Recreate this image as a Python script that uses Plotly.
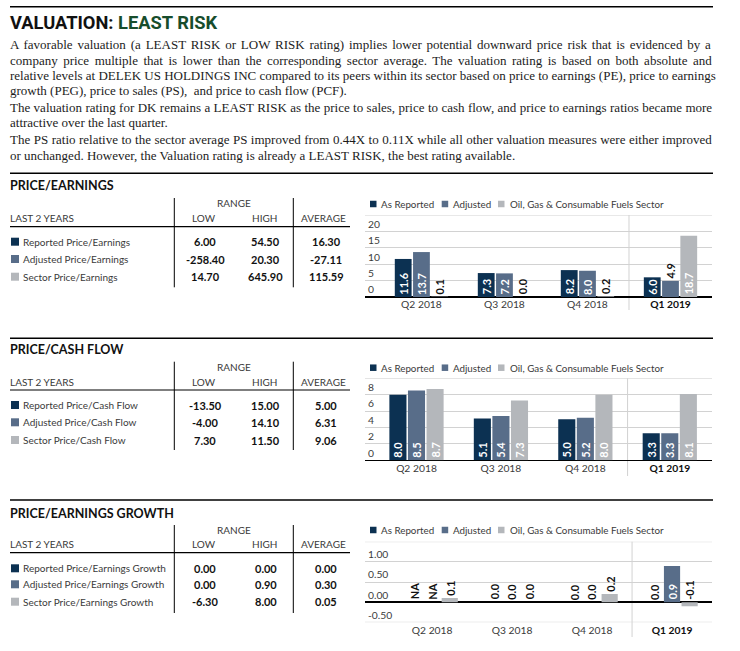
import plotly.graph_objects as go

W, H = 740, 651

# ---------------- data ----------------
categories = ["Q2 2018", "Q3 2018", "Q4 2018", "Q1 2019"]
series_names = ["As Reported", "Adjusted", "Oil, Gas & Consumable Fuels Sector"]
series_colors = ["#0c3152", "#586d89", "#b4b7bb"]

pe_reported = [11.6, 7.3, 8.2, 6.0]
pe_adjusted = [13.7, 7.2, 8.0, 4.9]
pe_sector = [0.1, 0.0, 0.2, 18.7]

pcf_reported = [8.0, 5.1, 5.0, 3.3]
pcf_adjusted = [8.5, 5.4, 5.2, 3.3]
pcf_sector = [8.7, 7.3, 8.0, 8.1]

peg_reported = [None, 0.0, 0.0, 0.0]
peg_adjusted = [None, 0.0, 0.0, 0.9]
peg_sector = [0.1, 0.0, 0.2, -0.1]

pe_rows = ["Reported Price/Earnings", "Adjusted Price/Earnings", "Sector Price/Earnings"]
pe_low = [6.00, -258.40, 14.70]
pe_high = [54.50, 20.30, 645.90]
pe_avg = [16.30, -27.11, 115.59]

pcf_rows = ["Reported Price/Cash Flow", "Adjusted Price/Cash Flow", "Sector Price/Cash Flow"]
pcf_low = [-13.50, -4.00, 7.30]
pcf_high = [15.00, 14.10, 11.50]
pcf_avg = [5.00, 6.31, 9.06]

peg_rows = ["Reported Price/Earnings Growth", "Adjusted Price/Earnings Growth", "Sector Price/Earnings Growth"]
peg_low = [0.00, 0.00, -6.30]
peg_high = [0.00, 0.90, 8.00]
peg_avg = [0.00, 0.30, 0.05]

pe_ticks = [0, 5, 10, 15, 20, 25]
pe_ticklabels = ["0", "5", "10", "15", "20", ""]
pcf_ticks = [0, 2, 4, 6, 8, 10]
pcf_ticklabels = ["0", "2", "4", "6", "8", ""]
peg_ticks = [-0.5, 0.0, 0.5, 1.0, 1.5]
peg_ticklabels = ["-0.50", "0.00", "0.50", "1.00", ""]

title_black = "VALUATION: "
title_green = "LEAST RISK"
# (text, y position, extra word spacing used to imitate the justified paragraph)
body_lines = [
    ("A favorable valuation (a LEAST RISK or LOW RISK rating) implies lower potential downward price risk that is evidenced by a", 44, 1.6),
    ("company price multiple that is lower than the corresponding sector average. The valuation rating is based on both absolute and", 60, 2.25),
    ("relative levels at DELEK US HOLDINGS INC compared to its peers within its sector based on price to earnings (PE), price to earnings", 75.5, 0.0),
    ("growth (PEG), price to sales (PS),  and price to cash flow (PCF).", 91, 0.0),
    ("The valuation rating for DK remains a LEAST RISK as the price to sales, price to cash flow, and price to earnings ratios became more", 107, 0.15),
    ("attractive over the last quarter.", 122.5, 0.0),
    ("The PS ratio relative to the sector average PS improved from 0.44X to 0.11X while all other valuation measures were either improved", 139, 0.25),
    ("or unchanged. However, the Valuation rating is already a LEAST RISK, the best rating available.", 155, 0.0),
]

sections = [
    dict(title="PRICE/EARNINGS", series=[pe_reported, pe_adjusted, pe_sector],
         rows=pe_rows, low=pe_low, high=pe_high, avg=pe_avg,
         ticks=pe_ticks, ticklabels=pe_ticklabels, yrange=[0, 25], xrange=[-0.68, 3.5],
         rule_y=173.3, title_y=185.5, range_y=203.3, head_y=218.3, line_y=226.7,
         rows_y=[241.7, 259.0, 276.7], vline=(198, 287.3), legend_y=204,
         plot=(215.0, 297.0), sep_bottom=310),
    dict(title="PRICE/CASH FLOW", series=[pcf_reported, pcf_adjusted, pcf_sector],
         rows=pcf_rows, low=pcf_low, high=pcf_high, avg=pcf_avg,
         ticks=pcf_ticks, ticklabels=pcf_ticklabels, yrange=[0, 10], xrange=[-0.61, 3.5],
         rule_y=338.3, title_y=349.0, range_y=367.3, head_y=381.7, line_y=390.0,
         rows_y=[405.0, 422.3, 440.0], vline=(361.7, 450.0), legend_y=367.7,
         plot=(378.3, 460.3), sep_bottom=476),
    dict(title="PRICE/EARNINGS GROWTH", series=[peg_reported, peg_adjusted, peg_sector],
         rows=peg_rows, low=peg_low, high=peg_high, avg=peg_avg,
         ticks=peg_ticks, ticklabels=peg_ticklabels, yrange=[-0.5, 1.5], xrange=[-0.84, 3.5],
         rule_y=500.0, title_y=513.3, range_y=530.0, head_y=544.3, line_y=552.7,
         rows_y=[568.3, 584.3, 601.7], vline=(525.0, 613.0), legend_y=530.0,
         plot=(541.7, 622.3), sep_bottom=637),
]

# ---------------- helpers ----------------
SANS = "Lato"
SERIF = "Liberation Serif"
GRID = "#d2d2d2"
TXT = "#3a3a3a"
PLOT_L, PLOT_R = 365.0, 712.0
BARGAP, GROUPGAP = 0.34, 0.08
SLOT = (1 - BARGAP) / 3

annotations = []
shapes = []


def px(x):
    return x / W


def py(y):
    return 1 - y / H


def text(x, y, s, size=10, color=TXT, family=SANS, xanchor="left", yanchor="middle"):
    annotations.append(dict(x=px(x), y=py(y), xref="paper", yref="paper", text=s,
                            showarrow=False, xanchor=xanchor, yanchor=yanchor, borderpad=0,
                            font=dict(family=family, size=size, color=color)))


def hline(x0, x1, y, color="black", width=1.0):
    shapes.append(dict(type="line", xref="paper", yref="paper", x0=px(x0), x1=px(x1),
                       y0=py(y), y1=py(y), line=dict(color=color, width=width)))


def vline(x, y0, y1, color="black", width=1.0):
    shapes.append(dict(type="line", xref="paper", yref="paper", x0=px(x), x1=px(x),
                       y0=py(y0), y1=py(y1), line=dict(color=color, width=width)))


def square(x, y, size, color):
    shapes.append(dict(type="rect", xref="paper", yref="paper", x0=px(x), x1=px(x + size),
                       y0=py(y + size / 2), y1=py(y - size / 2), line=dict(width=0), fillcolor=color))


fig = go.Figure()

# ---------------- header ----------------
hline(10, 713, 6.7, width=1.6)
annotations.append(dict(x=px(9), y=py(22.5), xref="paper", yref="paper", showarrow=False,
                        xanchor="left", yanchor="middle", borderpad=0,
                        text=f"<b>{title_black}<span style='color:#174d2c'>{title_green}</span></b>",
                        font=dict(family="Roboto", size=18.3, color="#111111")))
for line, y, ws in body_lines:
    s = f"<span style='word-spacing:{ws}px'>{line}</span>" if ws else line
    text(9, y, s, size=13, color="#1c1c1c", family=SERIF)

# ---------------- sections ----------------
for k, sec in enumerate(sections):
    sfx = "" if k == 0 else str(k + 1)
    xname, yname = "x" + sfx, "y" + sfx

    # section rule and title
    hline(10, 713, sec["rule_y"], width=1.6)
    text(9, sec["title_y"], f"<b>{sec['title']}</b>", size=12.5, color="#111111")

    # table
    text(234.3, sec["range_y"], "RANGE", xanchor="center")
    text(9, sec["head_y"], "LAST 2 YEARS")
    text(204, sec["head_y"], "LOW", xanchor="center")
    text(264, sec["head_y"], "HIGH", xanchor="center")
    text(323.5, sec["head_y"], "AVERAGE", xanchor="center")
    hline(10, 350, sec["line_y"], width=1.2)
    vline(174.3, sec["vline"][0], sec["vline"][1])
    vline(293.3, sec["vline"][0], sec["vline"][1])
    for r, label in enumerate(sec["rows"]):
        ry = sec["rows_y"][r]
        square(11, ry, 8, series_colors[r])
        text(22, ry, label)
        text(205, ry, f"<b>{sec['low'][r]:.2f}</b>", size=11, color="#111111", xanchor="center")
        text(265.5, ry, f"<b>{sec['high'][r]:.2f}</b>", size=11, color="#111111", xanchor="center")
        text(326, ry, f"<b>{sec['avg'][r]:.2f}</b>", size=11, color="#111111", xanchor="center")

    # legend
    lx = [370, 441.7, 498]
    tx = [380, 451.7, 509.3]
    for j, name in enumerate(series_names):
        square(lx[j], sec["legend_y"], 6.5, series_colors[j])
        text(tx[j], sec["legend_y"], name, size=9.8)

    # bars
    for j, vals in enumerate(sec["series"]):
        fig.add_trace(go.Bar(x=categories, y=vals, name=series_names[j],
                             marker=dict(color=series_colors[j], line=dict(width=0)),
                             xaxis=xname, yaxis=yname, showlegend=False, hoverinfo="skip"))

    top, bottom = sec["plot"]
    plot_h = bottom - top
    span = sec["yrange"][1] - sec["yrange"][0]

    # value labels on the bars
    for j, vals in enumerate(sec["series"]):
        for i, v in enumerate(vals):
            label = "NA" if v is None else f"{v:.1f}"
            bar_px = 0 if v is None else abs(v) * plot_h / span
            inside = v is not None and v > 0 and bar_px >= 18
            ybase = 0 if (inside or v is None) else max(v, 0)
            annotations.append(dict(x=i + (j - 1) * SLOT, y=ybase, xref=xname, yref=yname,
                                    text=f"<b>{label}</b>", showarrow=False, textangle=-90,
                                    xanchor="center", yanchor="bottom", yshift=1.5, borderpad=0,
                                    font=dict(family=SANS, size=11,
                                              color="white" if inside else "#111111")))

    # axes
    ticktext = [c if c != categories[-1] else f"<b style='color:#111'>{c}</b>" for c in categories]
    fig.update_layout({
        "xaxis" + sfx: dict(domain=[px(PLOT_L), px(PLOT_R)], range=sec["xrange"], type="category",
                            categoryorder="array", categoryarray=categories,
                            tickmode="array", tickvals=categories, ticktext=ticktext,
                            showgrid=False, zeroline=False, showline=False, ticks="",
                            tickfont=dict(family=SANS, size=10.3, color=TXT),
                            anchor=yname, fixedrange=True),
        "yaxis" + sfx: dict(domain=[py(bottom), py(top)], range=sec["yrange"],
                            tickmode="array", tickvals=sec["ticks"], ticktext=sec["ticklabels"],
                            ticklabelposition="inside top", ticks="",
                            showgrid=True, gridcolor=GRID, gridwidth=1,
                            zeroline=True, zerolinecolor="black", zerolinewidth=1.5,
                            showline=False, tickfont=dict(family=SANS, size=10.3, color=TXT),
                            anchor=xname, fixedrange=True),
    })

    # plot top / bottom border lines and quarter separator
    for yv in sec["yrange"]:
        if yv != 0:
            shapes.append(dict(type="line", xref=xname + " domain", yref=yname, x0=0, x1=1,
                               y0=yv, y1=yv, line=dict(color=GRID, width=1), layer="below"))
    shapes.append(dict(type="line", xref=xname, yref="paper", x0=2.5, x1=2.5,
                       y0=py(sec["sep_bottom"]), y1=py(top), line=dict(color=GRID, width=1),
                       layer="below"))

fig.update_layout(
    width=W, height=H, margin=dict(l=0, r=0, t=0, b=0),
    paper_bgcolor="white", plot_bgcolor="white",
    barmode="group", bargap=BARGAP, bargroupgap=GROUPGAP,
    showlegend=False, annotations=annotations, shapes=shapes,
    font=dict(family=SANS, color=TXT),
)

fig.write_html("out.html", config={"displayModeBar": False, "staticPlot": True},
               post_script="document.body.style.margin='0px';")
